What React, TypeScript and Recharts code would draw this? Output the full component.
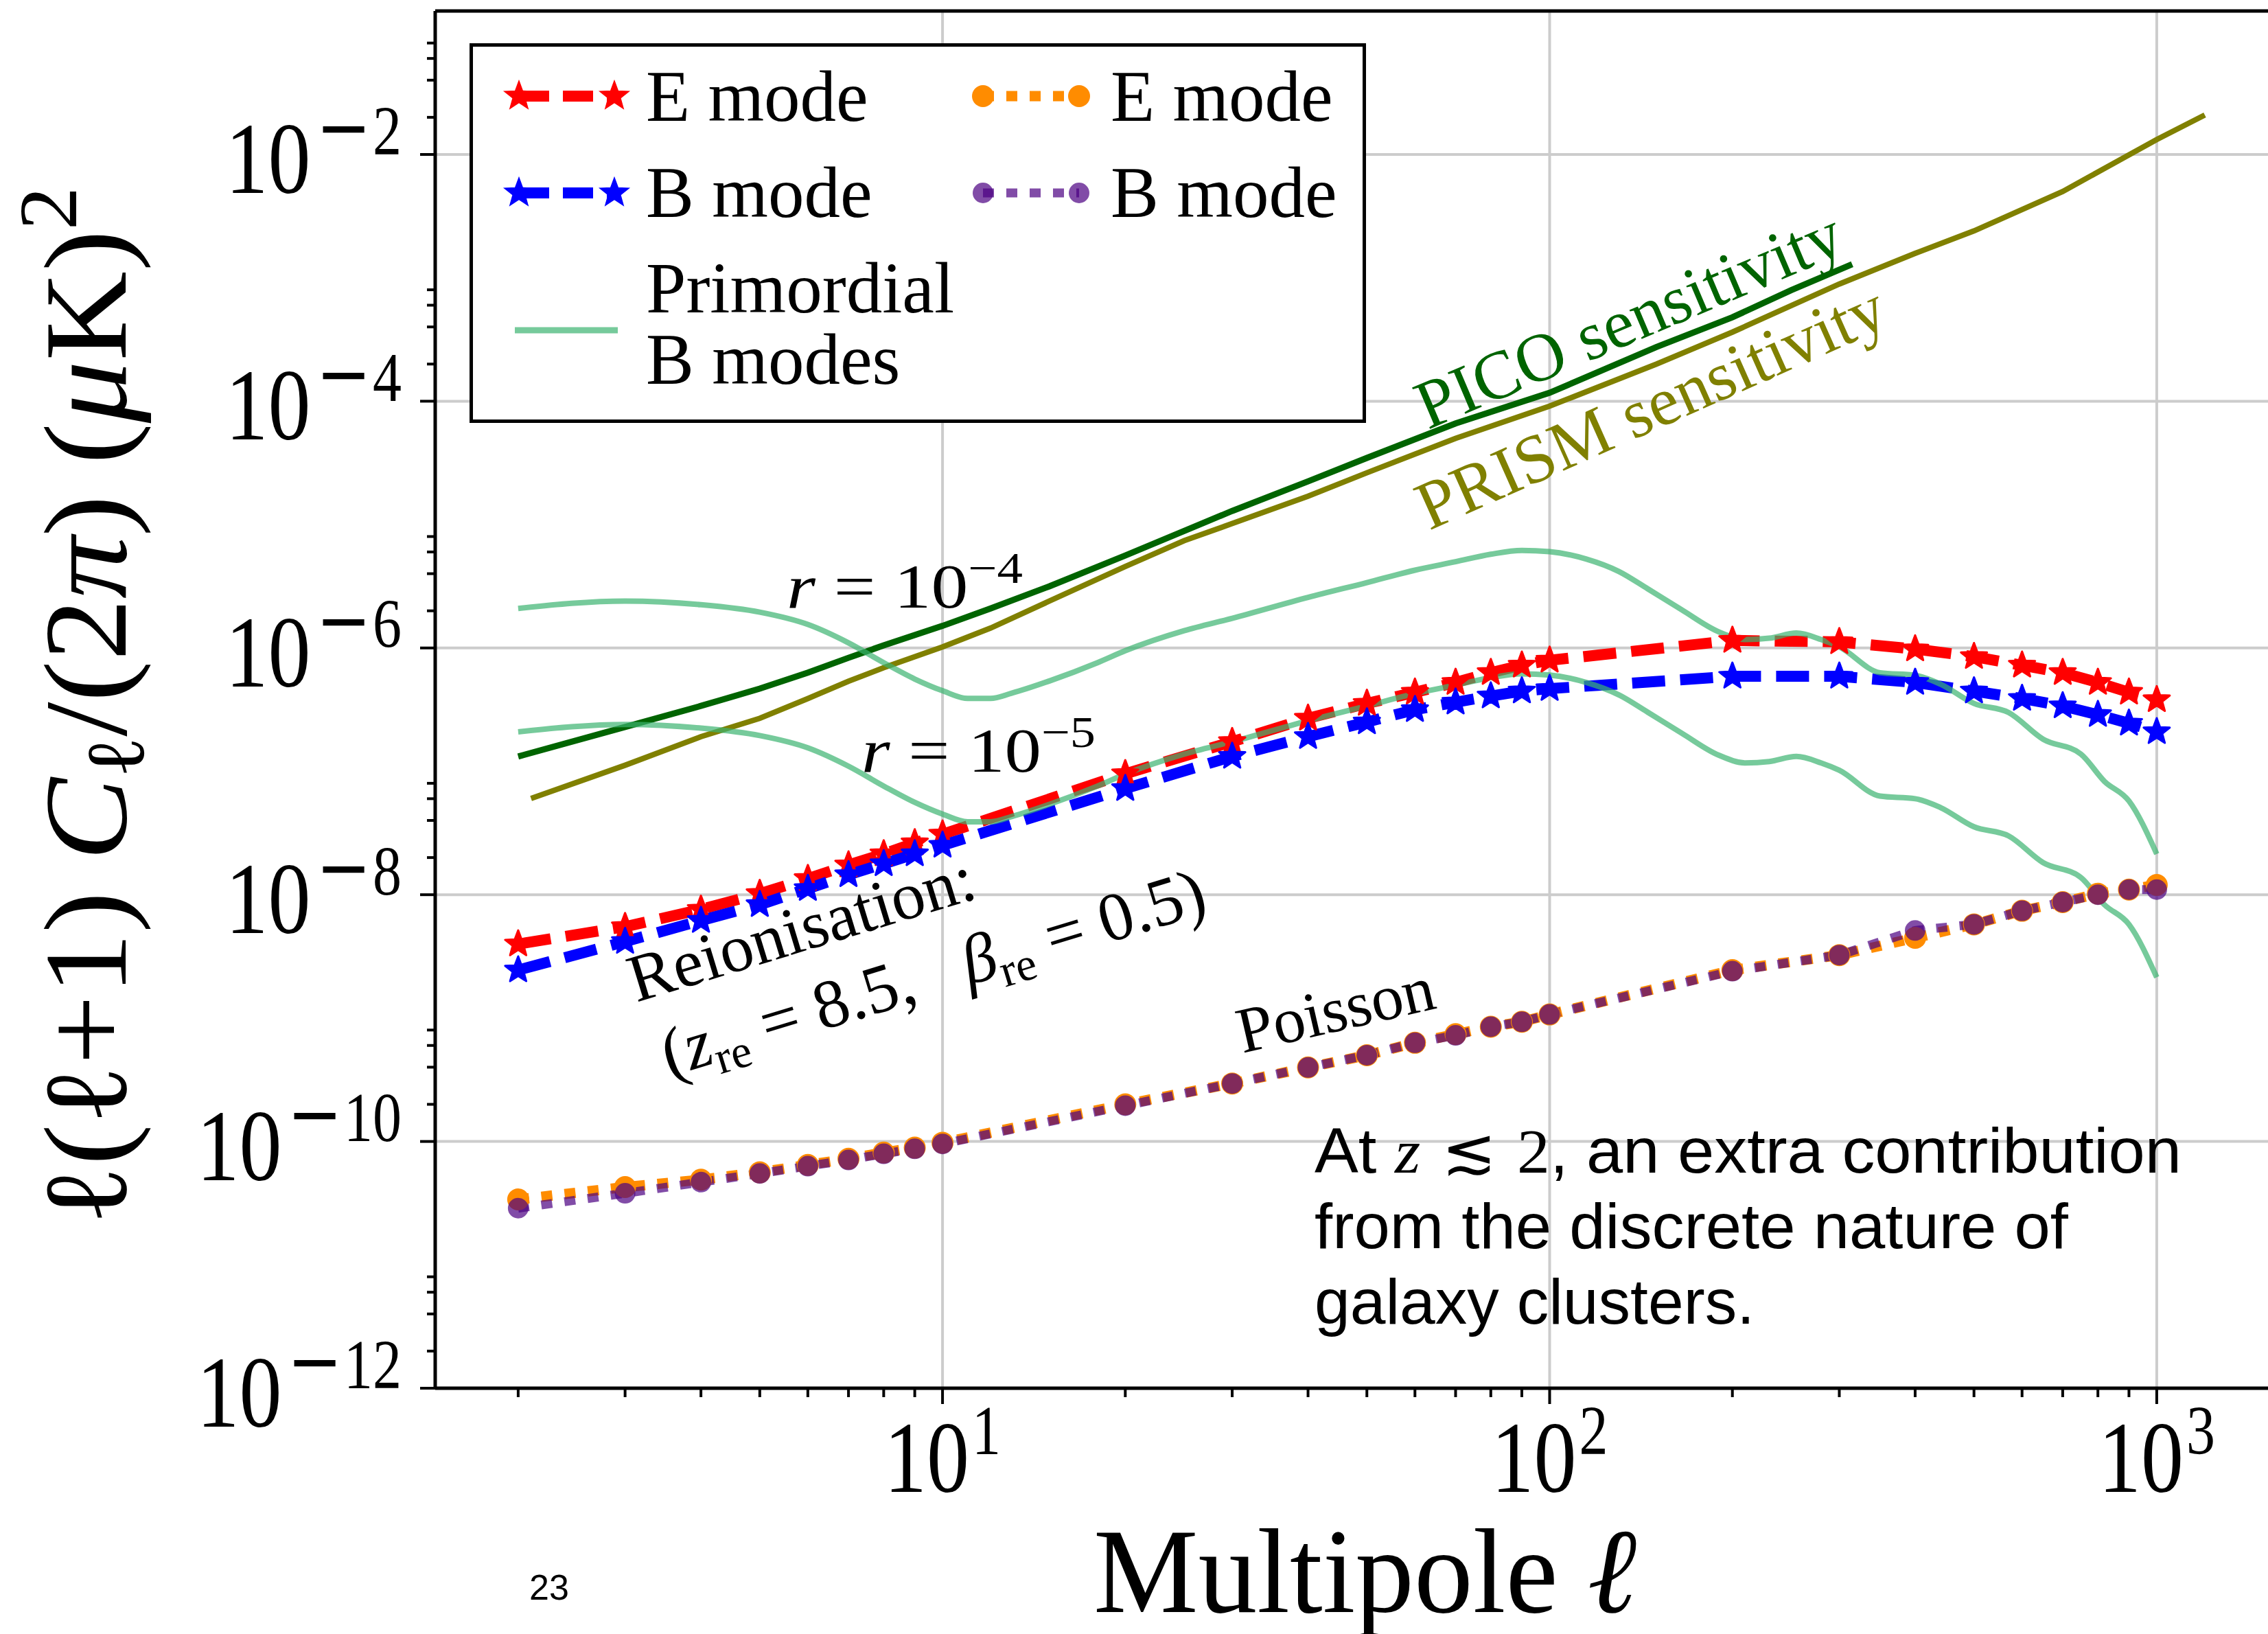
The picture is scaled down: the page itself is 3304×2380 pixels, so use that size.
import React from "react";
import { LineChart, Line, XAxis, YAxis, ReferenceLine, Legend } from "recharts";

// ---- data (l, l(l+1)C_l/2pi in muK^2) ----
const ellModes = [2, 3, 4, 5, 6, 7, 8, 9, 10, 20, 30, 40, 50, 60, 70, 80, 90, 100, 200, 300, 400, 500, 600, 700, 800, 900, 1000];

const eModeReion = [3.98e-9, 5.5e-9, 7.6e-9, 1.02e-8, 1.35e-8, 1.74e-8, 2.14e-8, 2.63e-8, 3.09e-8, 9.55e-8, 1.74e-7, 2.69e-7, 3.55e-7, 4.37e-7, 5.25e-7, 6.31e-7, 7.24e-7, 7.94e-7, 1.15e-6, 1.12e-6, 9.8e-7, 8.5e-7, 7.24e-7, 6.31e-7, 5.25e-7, 4.37e-7, 3.8e-7];
const bModeReion = [2.45e-9, 4.17e-9, 6.17e-9, 8.3e-9, 1.12e-8, 1.45e-8, 1.78e-8, 2.14e-8, 2.51e-8, 7.24e-8, 1.32e-7, 1.91e-7, 2.51e-7, 3.16e-7, 3.63e-7, 4.07e-7, 4.47e-7, 4.68e-7, 5.89e-7, 5.89e-7, 5.25e-7, 4.47e-7, 3.89e-7, 3.39e-7, 2.88e-7, 2.45e-7, 2.09e-7];
const eModePoisson = [3.39e-11, 4.27e-11, 4.9e-11, 5.62e-11, 6.46e-11, 7.24e-11, 8.13e-11, 8.91e-11, 9.77e-11, 2.0e-10, 2.95e-10, 3.98e-10, 5.0e-10, 6.31e-10, 7.41e-10, 8.51e-10, 9.33e-10, 1.07e-9, 2.45e-9, 3.24e-9, 4.47e-9, 5.75e-9, 7.41e-9, 8.71e-9, 1.02e-8, 1.1e-8, 1.2e-8];
const bModePoisson = [2.88e-11, 3.8e-11, 4.68e-11, 5.5e-11, 6.31e-11, 7.08e-11, 7.94e-11, 8.71e-11, 9.55e-11, 1.95e-10, 2.95e-10, 3.98e-10, 5.0e-10, 6.31e-10, 7.24e-10, 8.51e-10, 9.33e-10, 1.07e-9, 2.4e-9, 3.24e-9, 5.13e-9, 5.75e-9, 7.41e-9, 8.71e-9, 1.0e-8, 1.1e-8, 1.1e-8];

const ellPrimordial = [2, 3, 4, 5, 6, 7, 8, 9, 10, 11, 12, 13, 15, 18, 20, 25, 30, 40, 50, 60, 70, 80, 90, 100, 115, 130, 145, 165, 190, 210, 230, 255, 280, 300, 350, 400, 440, 500, 570, 650, 750, 820, 900, 1000];
const primordialR4 = [2.09e-6, 2.4e-6, 2.24e-6, 1.95e-6, 1.55e-6, 1.1e-6, 7.6e-7, 5.6e-7, 4.5e-7, 3.9e-7, 3.9e-7, 4.3e-7, 5.4e-7, 7.6e-7, 9.5e-7, 1.38e-6, 1.74e-6, 2.57e-6, 3.39e-6, 4.27e-6, 5.0e-6, 5.75e-6, 6.17e-6, 6.03e-6, 5.25e-6, 4.17e-6, 3.02e-6, 2.04e-6, 1.35e-6, 1.17e-6, 1.2e-6, 1.32e-6, 1.17e-6, 1.02e-6, 6.3e-7, 6.0e-7, 5.1e-7, 3.55e-7, 3.0e-7, 1.82e-7, 1.38e-7, 8.3e-8, 5.75e-8, 2.14e-8];
const primordialR5 = [2.09e-7, 2.4e-7, 2.24e-7, 1.95e-7, 1.55e-7, 1.1e-7, 7.6e-8, 5.6e-8, 4.5e-8, 3.9e-8, 3.9e-8, 4.3e-8, 5.4e-8, 7.6e-8, 9.5e-8, 1.38e-7, 1.74e-7, 2.57e-7, 3.39e-7, 4.27e-7, 5.0e-7, 5.75e-7, 6.17e-7, 6.03e-7, 5.25e-7, 4.17e-7, 3.02e-7, 2.04e-7, 1.35e-7, 1.17e-7, 1.2e-7, 1.32e-7, 1.17e-7, 1.02e-7, 6.3e-8, 6.0e-8, 5.1e-8, 3.55e-8, 3.0e-8, 1.82e-8, 1.38e-8, 8.3e-9, 5.75e-9, 2.14e-9];

const ellPico = [2, 3, 4, 5, 6, 7, 8, 10, 12, 15, 20, 30, 40, 50, 70, 100, 150, 200, 250, 315];
const picoSens = [1.32e-7, 2.29e-7, 3.39e-7, 4.68e-7, 6.31e-7, 8.32e-7, 1.05e-6, 1.51e-6, 2.09e-6, 3.16e-6, 5.62e-6, 1.29e-5, 2.24e-5, 3.47e-5, 6.61e-5, 1.17e-4, 2.75e-4, 4.79e-4, 7.94e-4, 1.29e-3];

const ellPrism = [2.1, 3, 4, 5, 6, 7, 8, 10, 12, 15, 20, 25, 30, 40, 50, 70, 100, 150, 200, 300, 400, 500, 700, 1000, 1200];
const prismSens = [6.03e-8, 1.12e-7, 1.91e-7, 2.69e-7, 3.89e-7, 5.37e-7, 6.92e-7, 1.02e-6, 1.45e-6, 2.4e-6, 4.57e-6, 7.4e-6, 1.02e-5, 1.7e-5, 2.63e-5, 5.0e-5, 9.12e-5, 2.0e-4, 3.63e-4, 8.91e-4, 1.58e-3, 2.4e-3, 5.01e-3, 1.32e-2, 2.09e-2];

// ---- axes ----
const X_DOMAIN = [1.46, 1525];
const Y_DOMAIN = [1e-12, 0.1455];
const xMajor = [10, 100, 1000];
const xMinor = [2, 3, 4, 5, 6, 7, 8, 9, 20, 30, 40, 50, 60, 70, 80, 90, 200, 300, 400, 500, 600, 700, 800, 900];
const yMajor = [1e-12, 1e-10, 1e-8, 1e-6, 1e-4, 1e-2];
const yMinor = [2e-12, 4e-12, 6e-12, 8e-12, 2e-10, 4e-10, 6e-10, 8e-10, 2e-8, 4e-8, 6e-8, 8e-8, 2e-6, 4e-6, 6e-6, 8e-6, 2e-4, 4e-4, 6e-4, 8e-4, 2e-2, 4e-2, 6e-2, 8e-2];

const SERIF = '"Liberation Serif", "DejaVu Serif", serif';
const SANS = '"Liberation Sans", Arial, sans-serif';
const GREEN = "#3cb371";
const PURPLE = "#4b0082";

const pts = (xs: number[], ys: number[]) => xs.map((l, i) => ({ l, v: ys[i] }));

function starPath(cx: number, cy: number, R: number) {
  let d = "";
  for (let i = 0; i < 10; i++) {
    const r = i % 2 === 0 ? R : R * 0.42;
    const a = -Math.PI / 2 + (i * Math.PI) / 5;
    d += (i ? "L" : "M") + (cx + r * Math.cos(a)).toFixed(1) + "," + (cy + r * Math.sin(a)).toFixed(1);
  }
  return d + "Z";
}

const starDot = (color: string) => (p: any) => {
  if (p.cx == null || p.cy == null) return <g key={`e-${p.index}`} />;
  return <path key={`st-${p.index}`} d={starPath(p.cx, p.cy, 20)} fill={color} stroke={color} strokeWidth={3} strokeLinejoin="round" />;
};

function XTick(p: any) {
  const v = p.payload.value;
  const major = xMajor.includes(v);
  return (
    <g>
      <line x1={p.x} x2={p.x} y1={p.y} y2={p.y + (major ? 23 : 13)} stroke="#000" strokeWidth={4} />
      {major && (
        <text transform={`translate(${p.x},2173) scale(1,1.2)`} textAnchor="middle" fontFamily={SERIF} fontSize={124} fill="#000">
          10<tspan dx={4} dy={-46} fontSize={84}>{Math.round(Math.log10(v))}</tspan>
        </text>
      )}
    </g>
  );
}

function YTick(p: any) {
  const v = p.payload.value;
  const major = yMajor.some((m) => Math.abs(m - v) / m < 1e-6);
  return (
    <g>
      <line x1={p.x} x2={p.x - (major ? 22 : 12)} y1={p.y} y2={p.y} stroke="#000" strokeWidth={4} />
      {major && (
        <text transform={`translate(585,${p.y + 56}) scale(1,1.2)`} textAnchor="end" fontFamily={SERIF} fontSize={124} fill="#000">
          10<tspan dx={8} dy={-47} fontSize={96} fontFamily="DejaVu Serif">−</tspan>
          <tspan dx={2} fontSize={84}>{Math.abs(Math.round(Math.log10(v)))}</tspan>
        </text>
      )}
    </g>
  );
}

function LegendBox() {
  const txt = { fontFamily: SERIF, fontSize: 105, fill: "#000" } as const;
  return (
    <svg width={1306} height={553} style={{ display: "block" }}>
      <rect x={2.5} y={2.5} width={1301} height={548} fill="#fff" stroke="#000" strokeWidth={5} />
      <line x1={72} x2={211} y1={77} y2={77} stroke="#ff0000" strokeWidth={16} strokeDasharray="44 20" />
      <path d={starPath(72, 77, 20)} fill="#ff0000" stroke="#ff0000" strokeWidth={3} />
      <path d={starPath(211, 77, 20)} fill="#ff0000" stroke="#ff0000" strokeWidth={3} />
      <text x={257} y={113} {...txt}>E mode</text>
      <line x1={72} x2={211} y1={218} y2={218} stroke="#0000ff" strokeWidth={16} strokeDasharray="44 20" />
      <path d={starPath(72, 218, 20)} fill="#0000ff" stroke="#0000ff" strokeWidth={3} />
      <path d={starPath(211, 218, 20)} fill="#0000ff" stroke="#0000ff" strokeWidth={3} />
      <text x={257} y={253} {...txt}>B mode</text>
      <line x1={66} x2={216} y1={418} y2={418} stroke={GREEN} strokeOpacity={0.7} strokeWidth={9} />
      <text x={257} y={392} {...txt}>Primordial</text>
      <text x={257} y={496} {...txt}>B modes</text>
      <line x1={748} x2={888} y1={77} y2={77} stroke="#ff8c00" strokeWidth={15} strokeDasharray="16 18" />
      <circle cx={748} cy={77} r={16} fill="#ff8c00" />
      <circle cx={888} cy={77} r={16} fill="#ff8c00" />
      <text x={934} y={113} {...txt}>E mode</text>
      <line x1={748} x2={888} y1={218} y2={218} stroke={PURPLE} strokeOpacity={0.7} strokeWidth={13} strokeDasharray="16 18" />
      <circle cx={748} cy={218} r={15} fill={PURPLE} fillOpacity={0.7} />
      <circle cx={888} cy={218} r={15} fill={PURPLE} fillOpacity={0.7} />
      <text x={934} y={253} {...txt}>B mode</text>
    </svg>
  );
}

function Annotations() {
  const s = { fontFamily: SERIF, fill: "#000" } as const;
  return (
    <svg width={3304} height={2380} style={{ position: "absolute", left: 0, top: 0, pointerEvents: "none" }}>
      {/* y title, stretched along its length to the reference extent */}
      <text transform="translate(183,1028) rotate(-90) scale(1.05,1)" textAnchor="middle" fontSize={172} {...s}>
        ℓ(ℓ+1) <tspan fontStyle="italic">C</tspan>
        <tspan fontSize={120} dy={26}>ℓ</tspan>
        <tspan dy={-26}>/(2</tspan>
        <tspan fontStyle="italic">π</tspan>) (<tspan fontStyle="italic">μ</tspan>K)
        <tspan fontSize={120} dy={-72}>2</tspan>
      </text>
      {/* x title */}
      <text x={1593} y={2348} fontSize={176} textLength={791} lengthAdjust="spacingAndGlyphs" {...s}>
        Multipole <tspan fontStyle="italic">ℓ</tspan>
      </text>
      <text x={771} y={2330} fontFamily={SANS} fontSize={52} fill="#000">23</text>

      <text x={1146} y={885} fontSize={92} textLength={344} lengthAdjust="spacingAndGlyphs" {...s}>
        <tspan fontStyle="italic">r</tspan> = 10<tspan dy={-36} fontSize={64}>−4</tspan>
      </text>
      <text x={1255} y={1124} fontSize={92} textLength={341} lengthAdjust="spacingAndGlyphs" {...s}>
        <tspan fontStyle="italic">r</tspan> = 10<tspan dy={-36} fontSize={64}>−5</tspan>
      </text>

      <text transform="translate(2080,626) rotate(-23)" fontFamily={SERIF} fontSize={100} fill="#006400">PICO sensitivity</text>
      <text transform="translate(2082,773) rotate(-24)" fontFamily={SERIF} fontSize={100} fill="#808000">PRISM sensitivity</text>

      <g transform="translate(927,1460) rotate(-17)">
        <text x={0} y={0} fontSize={98} {...s}>Reionisation:</text>
        <text x={14} y={118} fontSize={100} {...s}>
          (<tspan fontStyle="italic">z</tspan>
          <tspan fontSize={68} dy={18}>re</tspan>
          <tspan dy={-18}>{"\u00a0=\u00a08.5,\u00a0\u00a0\u00a0"}</tspan>
          <tspan fontStyle="italic">β</tspan>
          <tspan fontSize={68} dy={18}>re</tspan>
          <tspan dy={-18}>{"\u00a0=\u00a00.5)"}</tspan>
        </text>
      </g>
      <text transform="translate(1810,1534) rotate(-13)" fontSize={94} {...s}>Poisson</text>

      <text x={1915} y={1708} fontFamily={SANS} fontSize={92} fill="#000" textLength={1263} lengthAdjust="spacingAndGlyphs">
        {"At\u00a0"}
        <tspan fontFamily={SERIF} fontStyle="italic">z</tspan>
        <tspan fontFamily="DejaVu Serif">{"\u00a0≲\u00a0"}</tspan>
        <tspan fontFamily={SERIF}>2</tspan>
        {", an extra contribution"}
      </text>
      <text x={1915} y={1818} fontFamily={SANS} fontSize={92} fill="#000" textLength={1098} lengthAdjust="spacingAndGlyphs">
        from the discrete nature of
      </text>
      <text x={1915} y={1928} fontFamily={SANS} fontSize={92} fill="#000" textLength={641} lengthAdjust="spacingAndGlyphs">
        galaxy clusters.
      </text>
    </svg>
  );
}

export default function App() {
  const grid = { stroke: "#cccccc", strokeWidth: 4 };
  return (
    <div style={{ position: "absolute", left: 0, top: 0, width: 3304, height: 2380, background: "#fff", overflow: "hidden" }}>
      <LineChart width={3304} height={2380} margin={{ top: 16, right: 0, bottom: 0, left: 0 }}>
        <XAxis
          type="number"
          dataKey="l"
          scale="log"
          domain={X_DOMAIN}
          allowDataOverflow
          ticks={[...xMinor, ...xMajor].sort((a, b) => a - b)}
          interval={0}
          tickSize={0}
          tickMargin={0}
          tickLine={false}
          tick={(p: any) => <XTick {...p} />}
          height={358}
          axisLine={{ stroke: "#000", strokeWidth: 5 }}
        />
        <YAxis
          type="number"
          scale="log"
          domain={Y_DOMAIN}
          allowDataOverflow
          ticks={[...yMinor, ...yMajor].sort((a, b) => a - b)}
          interval={0}
          tickSize={0}
          tickMargin={0}
          tickLine={false}
          tick={(p: any) => <YTick {...p} />}
          width={634}
          axisLine={{ stroke: "#000", strokeWidth: 5 }}
        />
        {xMajor.map((v) => (
          <ReferenceLine key={`gx${v}`} x={v} {...grid} />
        ))}
        {yMajor.slice(1).map((v) => (
          <ReferenceLine key={`gy${v}`} y={v} {...grid} />
        ))}

        <Line data={pts(ellPico, picoSens)} dataKey="v" stroke="#006400" strokeWidth={9} dot={false} activeDot={false} isAnimationActive={false} />
        <Line data={pts(ellPrism, prismSens)} dataKey="v" stroke="#808000" strokeWidth={8} dot={false} activeDot={false} isAnimationActive={false} />
        <Line data={pts(ellModes, eModeReion)} dataKey="v" stroke="#ff0000" strokeWidth={16} strokeDasharray="48 22" dot={starDot("#ff0000")} activeDot={false} isAnimationActive={false} />
        <Line data={pts(ellModes, bModeReion)} dataKey="v" stroke="#0000ff" strokeWidth={16} strokeDasharray="48 22" dot={starDot("#0000ff")} activeDot={false} isAnimationActive={false} />
        <Line data={pts(ellPrimordial, primordialR4)} dataKey="v" type="monotone" stroke={GREEN} strokeOpacity={0.7} strokeWidth={8} dot={false} activeDot={false} isAnimationActive={false} />
        <Line data={pts(ellPrimordial, primordialR5)} dataKey="v" type="monotone" stroke={GREEN} strokeOpacity={0.7} strokeWidth={8} dot={false} activeDot={false} isAnimationActive={false} />
        <Line data={pts(ellModes, eModePoisson)} dataKey="v" stroke="#ff8c00" strokeWidth={15} strokeDasharray="16 18" dot={{ r: 16, fill: "#ff8c00", stroke: "none" }} activeDot={false} isAnimationActive={false} />
        <Line data={pts(ellModes, bModePoisson)} dataKey="v" stroke={PURPLE} strokeOpacity={0.7} strokeWidth={13} strokeDasharray="16 18" dot={{ r: 15, fill: PURPLE, fillOpacity: 0.7, stroke: "none" }} activeDot={false} isAnimationActive={false} />

        <ReferenceLine y={Y_DOMAIN[1]} stroke="#000" strokeWidth={5} />
        <Legend
          layout="vertical"
          align="center"
          verticalAlign="middle"
          content={() => <LegendBox />}
          wrapperStyle={{ position: "absolute", left: 684, top: 63, width: 1306, height: 553 }}
        />
      </LineChart>
      <Annotations />
    </div>
  );
}
